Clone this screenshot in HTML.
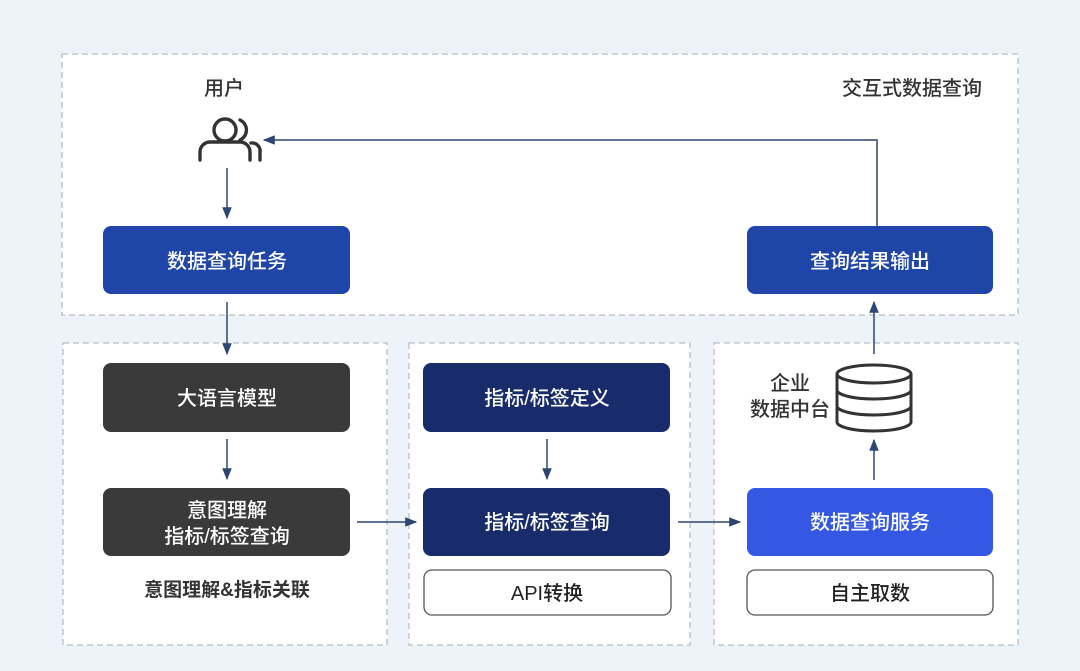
<!DOCTYPE html>
<html><head><meta charset="utf-8"><style>
html,body{margin:0;padding:0;background:#eef2f9;}
svg{display:block;}
text{font-family:"Liberation Sans","Noto Sans CJK SC",sans-serif;}
</style></head><body>
<svg width="1080" height="671" viewBox="0 0 1080 671" xmlns="http://www.w3.org/2000/svg">
<defs>
<marker id="a" viewBox="0 0 10 10" refX="9" refY="5" markerWidth="8" markerHeight="8" orient="auto"><path d="M0,1 L10,5 L0,9 z" fill="#2e4674"/></marker>
</defs>
<rect width="1080" height="671" fill="#eef2f9"/>
<g fill="#fff" stroke="#b9bec8" stroke-width="1.3" stroke-dasharray="6,4">
<rect x="62" y="54" width="956" height="261"/>
<rect x="63" y="343" width="324" height="302"/>
<rect x="409" y="343" width="281" height="302"/>
<rect x="714" y="343" width="304" height="302"/>
</g>
<g font-size="20" fill="#333" text-anchor="middle" font-weight="500">
<text x="224" y="95">用户</text>
<text x="912" y="95">交互式数据查询</text>
<text x="227" y="596" font-weight="bold" font-size="19">意图理解&amp;指标关联</text>
<text x="790" y="390">企业</text>
<text x="790" y="416">数据中台</text>
</g>
<g fill="none" stroke="#333" stroke-width="3.4" stroke-linecap="round">
<circle cx="225" cy="130" r="11"/>
<path d="M200,160 v-8 a10,10 0 0 1 10,-10 h30 a10,10 0 0 1 10,10 v8"/>
<path d="M240,120 a11,11 0 0 1 0,20"/>
<path d="M251,143 a8,8 0 0 1 9,9 v8"/>
</g>
<g fill="none" stroke="#333" stroke-width="3">
<ellipse cx="874" cy="374" rx="37" ry="9"/>
<path d="M837,374 v48 a37,9 0 0 0 74,0 v-48"/>
<path d="M837,390 a37,9 0 0 0 74,0"/>
<path d="M837,406 a37,9 0 0 0 74,0"/>
</g>
<g>
<rect x="103" y="226" width="247" height="68" rx="8" fill="#1f45a8"/>
<rect x="747" y="226" width="246" height="68" rx="8" fill="#1f45a8"/>
<rect x="103" y="363" width="247" height="69" rx="8" fill="#3a3a3a"/>
<rect x="103" y="488" width="247" height="68" rx="8" fill="#3a3a3a"/>
<rect x="423" y="363" width="247" height="69" rx="8" fill="#182c6b"/>
<rect x="423" y="488" width="247" height="68" rx="8" fill="#182c6b"/>
<rect x="747" y="488" width="246" height="68" rx="8" fill="#3457e4"/>
<rect x="424" y="570" width="247" height="45" rx="8" fill="#fff" stroke="#555" stroke-width="1.3"/>
<rect x="747" y="570" width="246" height="45" rx="8" fill="#fff" stroke="#555" stroke-width="1.3"/>
</g>
<g font-size="20" fill="#fff" text-anchor="middle" font-weight="500">
<text x="227" y="268">数据查询任务</text>
<text x="870" y="268">查询结果输出</text>
<text x="227" y="405">大语言模型</text>
<text x="227" y="517">意图理解</text>
<text x="227" y="543">指标/标签查询</text>
<text x="547" y="405">指标/标签定义</text>
<text x="547" y="529">指标/标签查询</text>
<text x="870" y="529">数据查询服务</text>
<text x="547" y="600" fill="#222">API转换</text>
<text x="870" y="600" fill="#222">自主取数</text>
</g>
<g stroke="#2e4674" stroke-width="1.5" fill="none" marker-end="url(#a)">
<line x1="227" y1="168" x2="227" y2="218"/>
<line x1="227" y1="302" x2="227" y2="354"/>
<line x1="227" y1="439" x2="227" y2="479"/>
<line x1="547" y1="439" x2="547" y2="479"/>
<line x1="357" y1="522" x2="416" y2="522"/>
<line x1="678" y1="522" x2="740" y2="522"/>
<line x1="874" y1="480" x2="874" y2="440"/>
<line x1="874" y1="354" x2="874" y2="302"/>
<polyline points="877,226 877,140 264,140"/>
</g>
</svg>
</body></html>
